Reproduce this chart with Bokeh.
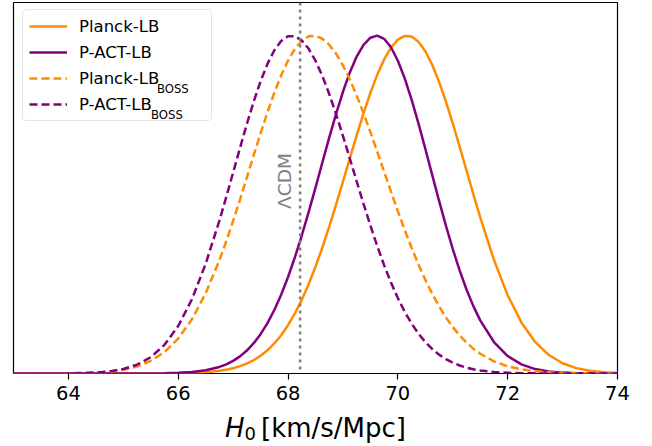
from bokeh.plotting import figure
from bokeh.layouts import column
from bokeh.models import Range1d, FixedTicker, Label, Legend, LegendItem, Span, Div
from bokeh.embed import file_html
from bokeh.resources import INLINE

# H0 grid (km/s/Mpc)
H0 = [63.0, 63.25, 63.5, 63.75, 64.0, 64.25, 64.5, 64.75, 65.0, 65.25, 65.5, 65.75,
      66.0, 66.25, 66.5, 66.75,
      66.875, 67.0, 67.125, 67.25, 67.375, 67.5, 67.625, 67.75, 67.875, 68.0,
      68.125, 68.25, 68.375, 68.5, 68.625, 68.75, 68.875, 69.0, 69.125, 69.25,
      69.375, 69.5, 69.625, 69.75, 69.875, 70.0, 70.125, 70.25, 70.375, 70.5,
      70.625, 70.75, 70.875, 71.0, 71.125, 71.25, 71.375, 71.5,
      71.75, 72.0, 72.25, 72.5, 72.75, 73.0, 73.25, 73.5, 73.75, 74.0]

# normalised posteriors
PLANCK_LB = [0, 0, 0, 0, 0, 0, 0, 0, 0, 0, 0.0001, 0.0003, 0.0008, 0.0018, 0.0038, 0.0080,
             0.0113, 0.0157, 0.0217, 0.0295, 0.0396, 0.0526, 0.0688, 0.0889, 0.1134, 0.1429,
             0.1776, 0.2180, 0.2641, 0.3159, 0.3729, 0.4347, 0.5001, 0.5680, 0.6368, 0.7048,
             0.7701, 0.8307, 0.8845, 0.9297, 0.9647, 0.9881, 0.9992, 0.9972, 0.9818, 0.9536,
             0.9136, 0.8634, 0.8049, 0.7402, 0.6714, 0.6009, 0.5304, 0.4619,
             0.3362, 0.2317, 0.1512, 0.0934, 0.0546, 0.0303, 0.0159, 0.0079, 0.0037, 0.0017]
PACT_LB = [0, 0, 0, 0, 0, 0, 0, 0, 0, 0.0001, 0.0003, 0.0008, 0.0019, 0.0043, 0.0094, 0.0194,
           0.0271, 0.0374, 0.0508, 0.0680, 0.0897, 0.1165, 0.1491, 0.1880, 0.2334, 0.2855,
           0.3441, 0.4084, 0.4776, 0.5502, 0.6244, 0.6980, 0.7686, 0.8338, 0.8910, 0.9380,
           0.9727, 0.9937, 0.9999, 0.9906, 0.9654, 0.9257, 0.8734, 0.8106, 0.7403, 0.6651,
           0.5880, 0.5114, 0.4376, 0.3684, 0.3051, 0.2487, 0.1994, 0.1572,
           0.0932, 0.0517, 0.0269, 0.0131, 0.0060, 0.0026, 0.0010, 0.0004, 0.0001, 0]
PLANCK_LB_BOSS = [0, 0, 0.0001, 0.0002, 0.0006, 0.0013, 0.0027, 0.0057, 0.0111, 0.0208, 0.0373, 0.0635,
                  0.1034, 0.1604, 0.2375, 0.3353,
                  0.3915, 0.4516, 0.5149, 0.5802, 0.6460, 0.7109, 0.7731, 0.8309, 0.8825, 0.9263,
                  0.9609, 0.9850, 0.9979, 0.9992, 0.9907, 0.9729, 0.9464, 0.9118, 0.8702, 0.8226,
                  0.7702, 0.7143, 0.6562, 0.5971, 0.5381, 0.4804, 0.4248, 0.3721, 0.3227, 0.2773,
                  0.2361, 0.1990, 0.1662, 0.1375, 0.1126, 0.0914, 0.0735, 0.0585,
                  0.0360, 0.0214, 0.0122, 0.0067, 0.0035, 0.0018, 0.0009, 0.0004, 0.0002, 0.0001]
PACT_LB_BOSS = [0, 0, 0.0001, 0.0002, 0.0005, 0.0012, 0.0029, 0.0063, 0.0132, 0.0260, 0.0483, 0.0848,
                0.1406, 0.2199, 0.3247, 0.4523,
                0.5225, 0.5949, 0.6676, 0.7384, 0.8050, 0.8650, 0.9163, 0.9565, 0.9843, 0.9983,
                0.9983, 0.9857, 0.9612, 0.9257, 0.8805, 0.8271, 0.7674, 0.7031, 0.6363, 0.5687,
                0.5019, 0.4376, 0.3767, 0.3203, 0.2690, 0.2231, 0.1827, 0.1478, 0.1181, 0.0932,
                0.0726, 0.0559, 0.0425, 0.0319, 0.0236, 0.0173, 0.0125, 0.0089,
                0.0044, 0.0021, 0.0009, 0.0004, 0.0002, 0.0001, 0, 0, 0, 0]

XTICKS = [64, 66, 68, 70, 72, 74]
LCDM_H0 = 68.22
LABELS = ["Planck-LB", "P-ACT-LB", "Planck-LB", "P-ACT-LB"]
SUBSCRIPTS = ["", "", "BOSS", "BOSS"]

ORANGE = "#ff8c00"
PURPLE = "#800080"
FONT = "DejaVu Sans"

p = figure(width=650, height=409, output_backend="svg", toolbar_location=None,
           x_range=Range1d(63, 74), y_range=Range1d(0, 1.098),
           min_border_left=13, min_border_right=33, min_border_top=2, min_border_bottom=36)
p.background_fill_color = "white"
p.border_fill_color = "white"
p.grid.visible = False
p.yaxis.visible = False
p.outline_line_color = "black"
p.outline_line_width = 1.2

ax = p.xaxis[0]
ax.ticker = FixedTicker(ticks=XTICKS)
ax.major_label_text_font = FONT
ax.major_label_text_font_size = "19.5px"
ax.major_label_text_color = "black"
ax.major_tick_in = 0
ax.major_tick_out = 6
ax.major_tick_line_width = 1.2
ax.major_tick_line_color = "black"
ax.minor_tick_in = 0
ax.minor_tick_out = 0
ax.axis_line_color = None
ax.major_label_standoff = 6

p.add_layout(Span(location=LCDM_H0, dimension="height", line_color="#808080",
                  line_dash="3 4", line_width=2.5))

r1 = p.line(H0, PLANCK_LB, line_color=ORANGE, line_width=2.5)
r2 = p.line(H0, PACT_LB, line_color=PURPLE, line_width=2.5)
r3 = p.line(H0, PLANCK_LB_BOSS, line_color=ORANGE, line_width=2.5, line_dash="8 4")
r4 = p.line(H0, PACT_LB_BOSS, line_color=PURPLE, line_width=2.5, line_dash="8 4")

legend = Legend(items=[LegendItem(label=LABELS[i], renderers=[r]) for i, r in enumerate([r1, r2, r3, r4])],
                location=(9, 252), margin=0, padding=6, spacing=6,
                label_height=20, glyph_height=20, glyph_width=38, label_standoff=12, label_width=126,
                label_text_font=FONT, label_text_font_size="16.5px", label_text_color="black",
                border_line_color="#cccccc", border_line_width=1.2,
                background_fill_color="white", background_fill_alpha=0.0)
try:
    legend.border_radius = 4
except Exception:
    pass
p.add_layout(legend)

# subscripts of the legend labels (frame-relative screen positions)
sub_pos = [None, None, (143.4, 285.0), (137.5, 259.0)]
for s, pos in zip(SUBSCRIPTS, sub_pos):
    if s:
        p.add_layout(Label(x=pos[0], y=pos[1], x_units="screen", y_units="screen", text=s,
                           text_font=FONT, text_font_size="11.7px", text_color="black",
                           text_align="left", text_baseline="alphabetic", level="overlay"))

# LCDM label
p.add_layout(Label(x=LCDM_H0, y=192.5, x_units="data", y_units="screen", x_offset=-16,
                   text="ΛCDM", angle=90, angle_units="deg", text_align="center",
                   text_baseline="alphabetic", text_font=FONT, text_font_size="18.5px",
                   text_color="#808080"))

# x-axis title: H_0 [km/s/Mpc]
xlabel = Div(
    text=('<div style="font-family:\'DejaVu Sans\';font-size:26px;line-height:26px;'
          'padding-left:225px;padding-top:6px;white-space:nowrap;color:black;margin:0">'
          '<i>H</i><sub style="font-size:18px;vertical-align:-3px;line-height:0">0</sub>'
          '<span style="margin-left:5px">[km/s/Mpc]</span></div>'),
    width=650, height=35, margin=(0, 0, 0, 0))

open("out.html", "w").write(file_html(column(p, xlabel, spacing=0), INLINE))
